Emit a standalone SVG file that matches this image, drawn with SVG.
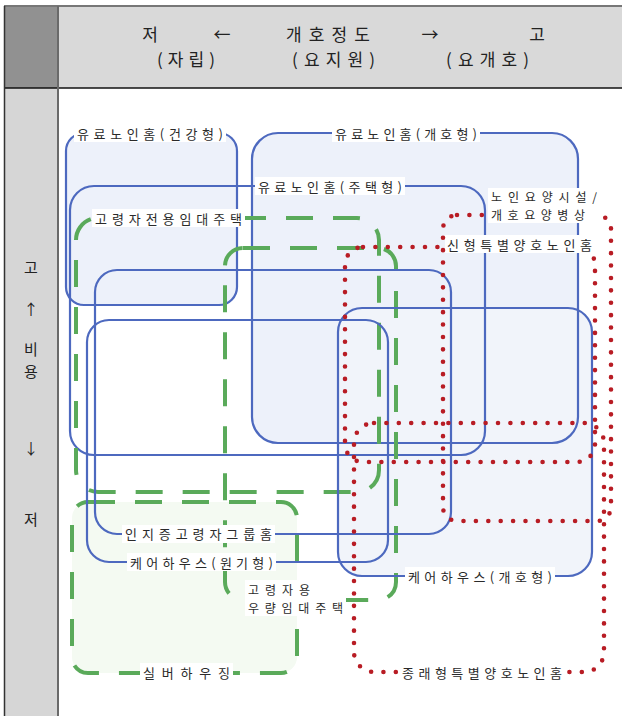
<svg xmlns="http://www.w3.org/2000/svg" width="622" height="716" viewBox="0 0 622 716">
<style>
.tx{font-family:"Noto Sans CJK KR","Noto Sans",sans-serif;fill:#222}
.hd{font-size:17px}
.sd{font-size:15px}
.lb{font-size:13px;fill:#2a2a2a}
.lb2{font-size:12px;fill:#2a2a2a}
.bl{fill:none;stroke:#4d69bf;stroke-width:2.2}
.gr{fill:none;stroke:#5aaa5a;stroke-width:4;stroke-dasharray:27 20}
.rd{fill:none;stroke:#b81c24;stroke-width:4.6;stroke-dasharray:0 12.4;stroke-linecap:round}
.bg{fill:#fff}
</style>
<g id="table">
<rect x="0" y="0" width="622" height="716" fill="#fff"/>
<rect x="5" y="7" width="53" height="81" fill="#919191"/>
<rect x="58" y="7" width="564" height="81" fill="#d9d9d9"/>
<rect x="5" y="88" width="53" height="628" fill="#d6d6d6"/>
<line x1="4" y1="6" x2="622" y2="6" stroke="#777" stroke-width="2"/>
<line x1="4" y1="88" x2="622" y2="88" stroke="#111" stroke-width="1.5"/>
<line x1="4.5" y1="6" x2="4.5" y2="716" stroke="#333" stroke-width="1.5"/>
<line x1="58" y1="6" x2="58" y2="716" stroke="#6a6a6a" stroke-width="2"/>
<g class="tx hd" text-anchor="middle" dominant-baseline="central">
<text x="150" y="33">저</text>
<text x="222" y="33">←</text>
<text x="286" y="33" text-anchor="start" textLength="84" lengthAdjust="spacing">개호정도</text>
<text x="430" y="33">→</text>
<text x="537" y="33">고</text>
<text x="157" y="58" text-anchor="start" textLength="58" lengthAdjust="spacing">(자립)</text>
<text x="292" y="58" text-anchor="start" textLength="83" lengthAdjust="spacing">(요지원)</text>
<text x="446" y="58" text-anchor="start" textLength="83" lengthAdjust="spacing">(요개호)</text>
</g>
<g class="tx sd" text-anchor="middle" dominant-baseline="central">
<text x="31" y="266">고</text>
<text x="31" y="308">↑</text>
<text x="31" y="348">비</text>
<text x="31" y="370">용</text>
<text x="31" y="447">↓</text>
<text x="31" y="518">저</text>
</g>
</g>
<g id="fills">
<rect x="66" y="133" width="171" height="172" rx="18" fill="#edf1fa"/>
<rect x="252" y="133" width="326" height="310" rx="26" fill="#edf1fa"/>
<rect x="338" y="308" width="254" height="268" rx="24" fill="#f1f4fa"/>
<rect x="72" y="502" width="225" height="171" rx="16" fill="#f4faf2"/>
</g>
<g id="connectors"></g>
<g id="n-kenkou">
<rect class="bl" x="66" y="133" width="171" height="172" rx="18"/>
<rect class="bg" x="74" y="124" width="152" height="18"/>
<text class="tx lb" x="77" y="133" dominant-baseline="central" textLength="146" lengthAdjust="spacing">유료노인홈(건강형)</text>
</g>
<g id="n-kaigo-home">
<rect class="bl" x="252" y="133" width="326" height="310" rx="26"/>
<rect class="bg" x="332" y="124" width="148" height="18"/>
<text class="tx lb" x="335" y="133" dominant-baseline="central" textLength="142" lengthAdjust="spacing">유료노인홈(개호형)</text>
</g>
<g id="n-jutaku">
<rect class="bl" x="70" y="186" width="415" height="269" rx="24"/>
<rect class="bg" x="255" y="177" width="150" height="18"/>
<text class="tx lb" x="258" y="186" dominant-baseline="central" textLength="144" lengthAdjust="spacing">유료노인홈(주택형)</text>
</g>
<g id="n-silver">
<rect class="gr" x="72" y="502" width="225" height="171" rx="16"/>
<rect class="bg" x="140" y="663" width="93" height="18"/>
<text class="tx lb" x="143" y="672" dominant-baseline="central" textLength="87" lengthAdjust="spacing">실버하우징</text>
</g>
<g id="n-yuryo-chintai">
<rect class="gr" x="225" y="248" width="171" height="352" rx="18"/>
<rect class="bg" x="245" y="580" width="101" height="36"/>
<text class="tx lb2" x="248" y="589" dominant-baseline="central" textLength="62" lengthAdjust="spacing">고령자용</text>
<text class="tx lb2" x="248" y="607" dominant-baseline="central" textLength="95" lengthAdjust="spacing">우량임대주택</text>
</g>
<g id="n-senyo-chintai">
<rect class="gr" x="76" y="218" width="303" height="274" rx="22"/>
<rect class="bg" x="92" y="209" width="153" height="18"/>
<text class="tx lb" x="95" y="218" dominant-baseline="central" textLength="147" lengthAdjust="spacing">고령자전용임대주택</text>
</g>
<g id="n-group-home">
<rect class="bl" x="95" y="270" width="356" height="264" rx="22"/>
<rect class="bg" x="122" y="525" width="153" height="18"/>
<text class="tx lb" x="125" y="533" dominant-baseline="central" textLength="147" lengthAdjust="spacing">인지증고령자그룹홈</text>
</g>
<g id="n-care-genki">
<rect class="bl" x="87" y="320" width="301" height="242" rx="22"/>
<rect class="bg" x="127" y="553" width="149" height="18"/>
<text class="tx lb" x="130" y="562" dominant-baseline="central" textLength="143" lengthAdjust="spacing">케어하우스(원기형)</text>
</g>
<g id="n-care-kaigo">
<rect class="bl" x="338" y="308" width="254" height="268" rx="24"/>
<rect class="bg" x="405" y="567" width="150" height="18"/>
<text class="tx lb" x="408" y="576" dominant-baseline="central" textLength="144" lengthAdjust="spacing">케어하우스(개호형)</text>
</g>
<g id="n-shingata">
<rect class="rd" x="345" y="247" width="250" height="215" rx="18"/>
<rect class="bg" x="445" y="235" width="150" height="18"/>
<text class="tx lb" x="447" y="244" dominant-baseline="central" textLength="145" lengthAdjust="spacing">신형특별양호노인홈</text>
</g>
<g id="n-roujin-yoyo">
<rect class="rd" x="443" y="215" width="168" height="306" rx="14"/>
<rect class="bg" x="488" y="188" width="112" height="35"/>
<text class="tx lb2" x="491" y="196.5" dominant-baseline="central" textLength="106" lengthAdjust="spacing">노인요양시설/</text>
<text class="tx lb2" x="491" y="214" dominant-baseline="central" textLength="94" lengthAdjust="spacing">개호요양병상</text>
</g>
<g id="n-juraigata">
<rect class="rd" x="354" y="423" width="250" height="249" rx="20"/>
<rect class="bg" x="399" y="663" width="166" height="18"/>
<text class="tx lb" x="402" y="672" dominant-baseline="central" textLength="160" lengthAdjust="spacing">종래형특별양호노인홈</text>
</g>
</svg>
